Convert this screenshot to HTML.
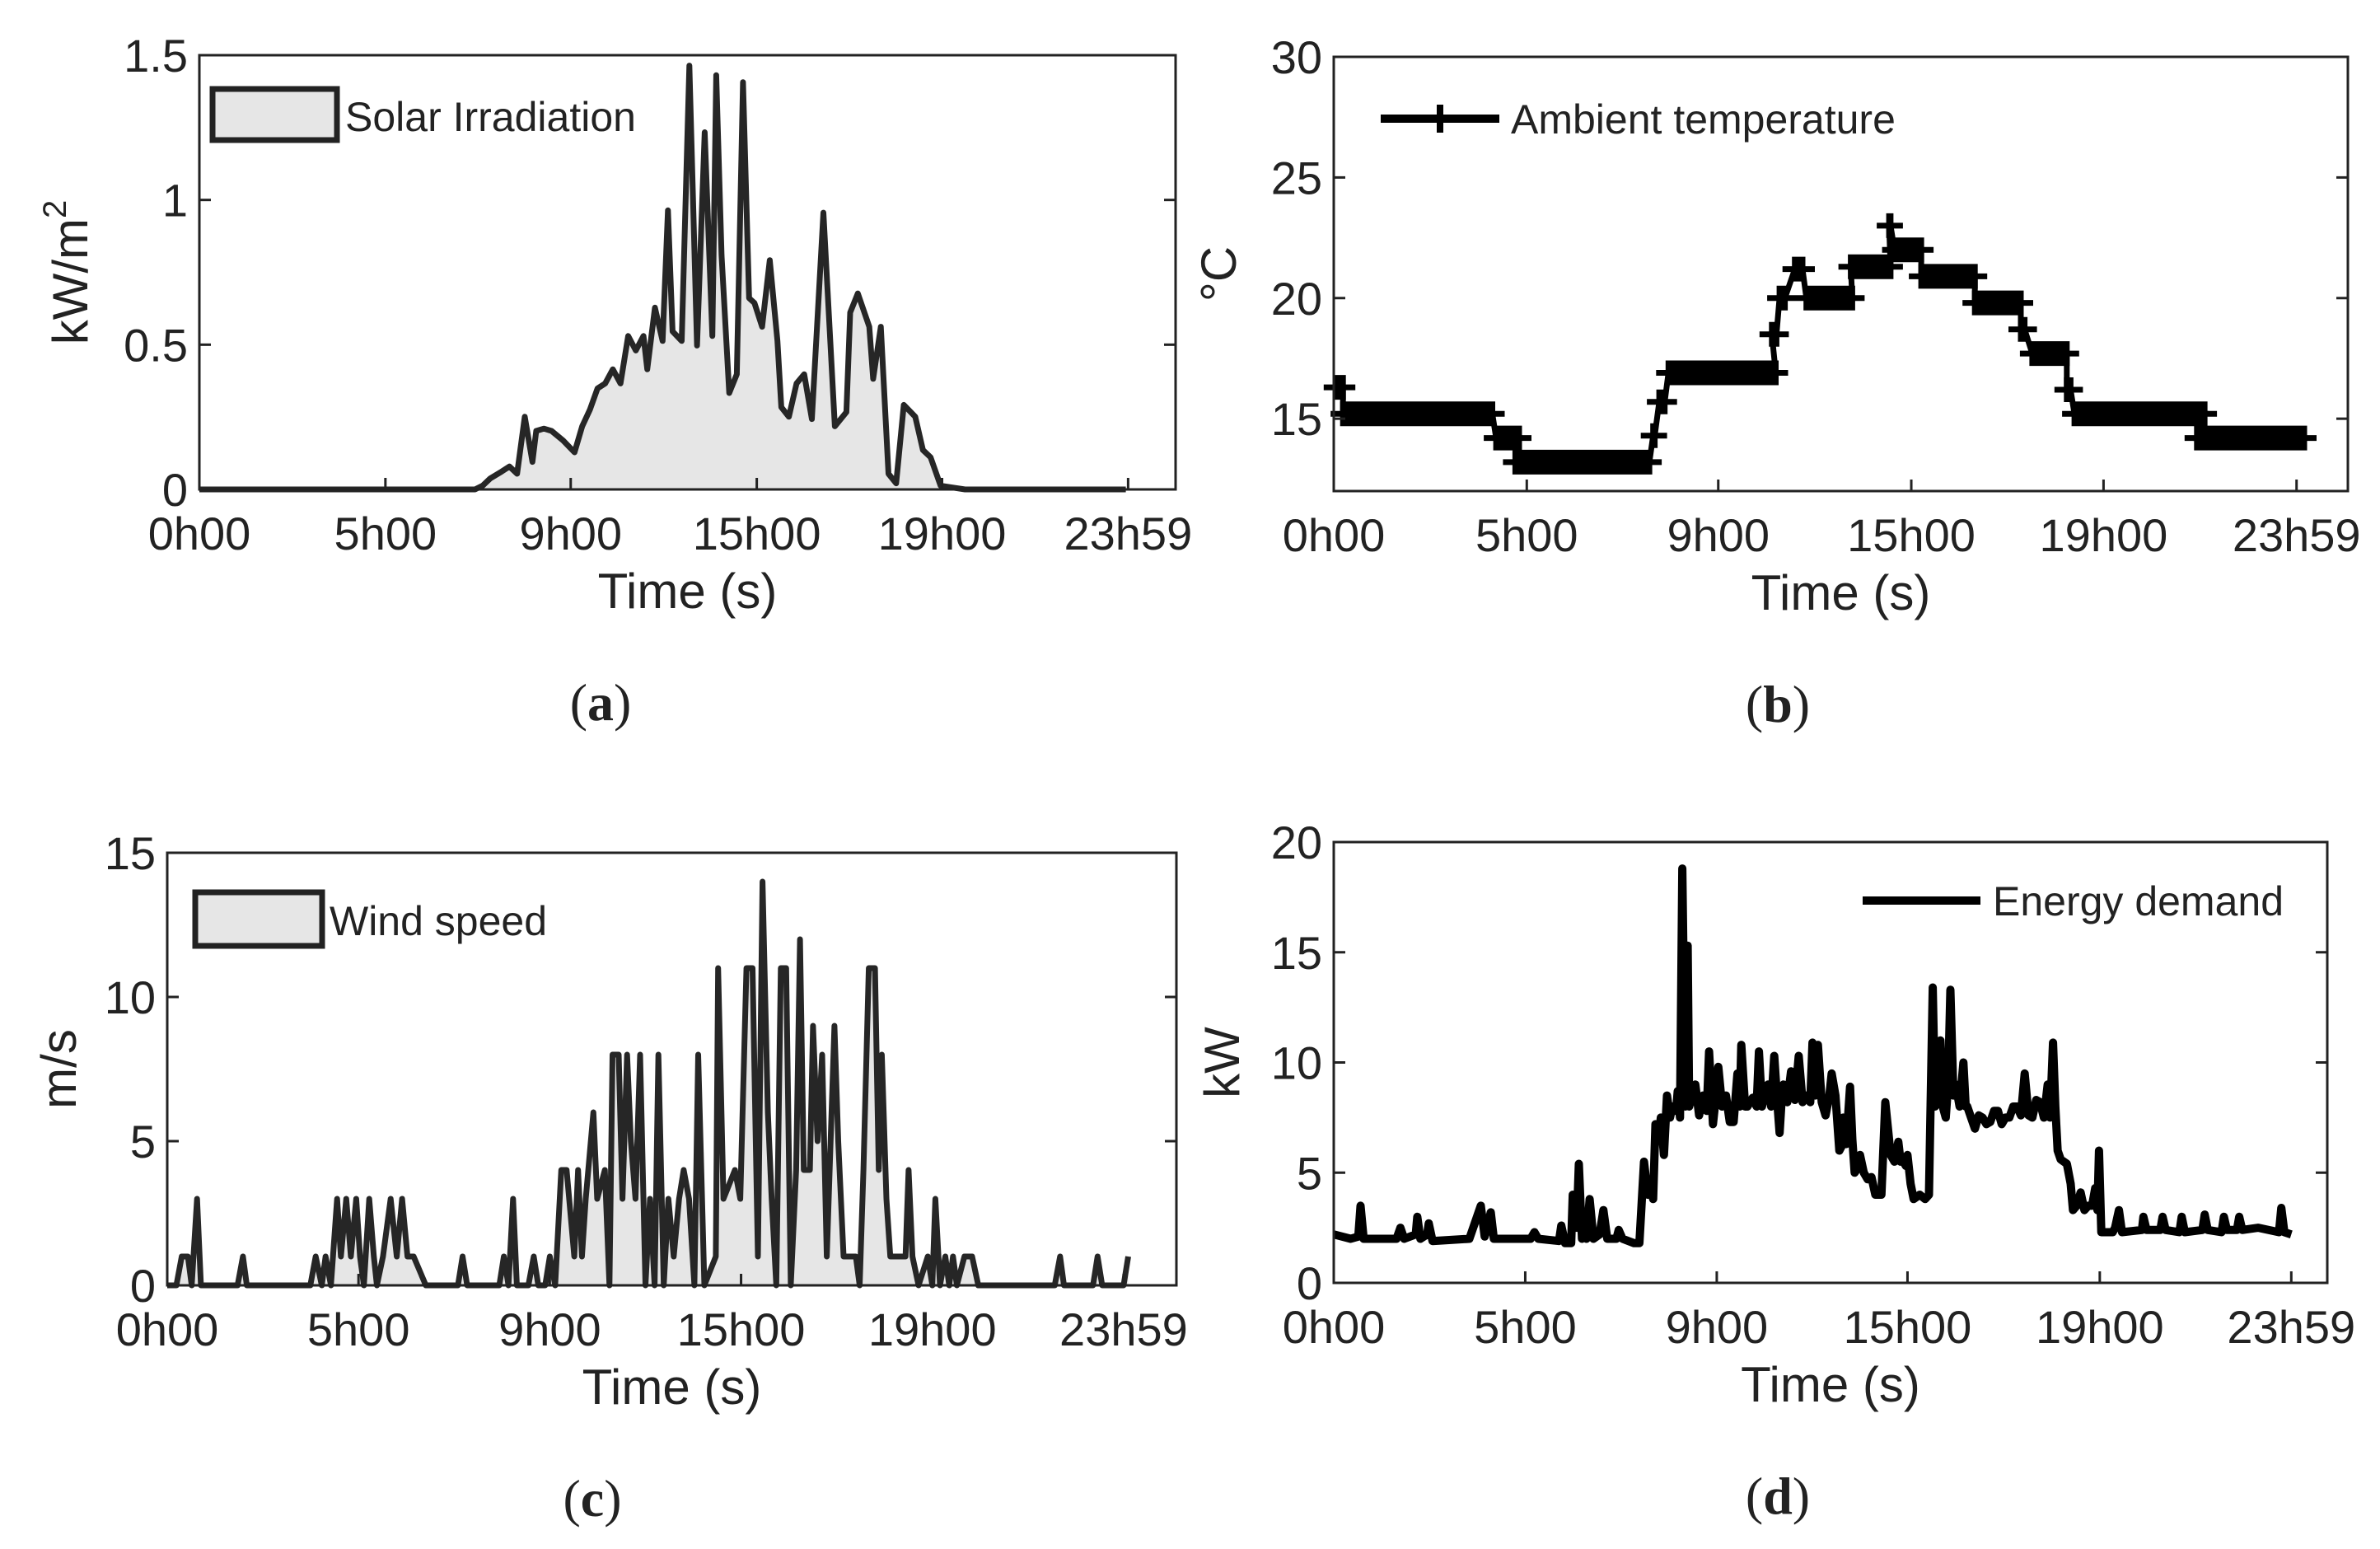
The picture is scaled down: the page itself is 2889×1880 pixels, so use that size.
<!DOCTYPE html>
<html><head><meta charset="utf-8"><style>
html,body{margin:0;padding:0;background:#fff}
svg{display:block}
text{font-family:"Liberation Sans",sans-serif;fill:#222}
.cap{font-family:"Liberation Serif",serif}
</style></head><body>
<svg id="fig" xmlns="http://www.w3.org/2000/svg" width="2889" height="1880" viewBox="0 0 2889 1880"></svg>
<script>
// ---------- data ----------
const timeTickLabels = ["0h00","5h00","9h00","15h00","19h00","23h59"];
// (a) solar irradiation: sample index, kW/m2
const solarIdx = [0,360,370,380,395,405,415,425,435,440,450,460,475,490,500,510,520,530,540,550,560,570,580,585,595,605,612,618,630,640,650,660,670,675,682,692,702,710,718,725,735,745,755,760,770,780,790,800,815,830,845,850,860,875,880,890,900,910,920,935,945,955,968,980,1000,1210];
const solarVal = [0,0,.013,.038,.062,.079,.054,.251,.095,.202,.21,.202,.169,.128,.218,.275,.349,.366,.415,.366,.53,.48,.53,.415,.628,.513,.964,.546,.513,1.464,.497,1.234,.53,1.431,.808,.333,.398,1.407,.661,.644,.562,.792,.513,.284,.251,.366,.398,.243,.956,.218,.267,.611,.677,.562,.382,.562,.054,.021,.292,.251,.136,.111,.013,.008,0,0];
const solarTicks = [0,243,485,728,970,1213];
const solarYTicks = [0,0.5,1,1.5];
const solarYLabels = ["0","0.5","1","1.5"];
// (b) ambient temperature step segments: start idx, end idx, value
const tempStart = [3,12,212,237,417,425,437,572,582,602,617,675,725,732,767,837,897,912,957,967,1127];
const tempEnd   = [12,207,242,412,419,432,577,578,589,612,677,727,727,767,837,897,902,957,962,1137,1267];
const tempVal   = [16.3,15.2,14.2,13.2,14.3,15.7,16.9,18.5,20.0,21.2,20.0,21.3,23.0,22.0,20.9,19.8,18.7,17.7,16.2,15.2,14.2];
const tempTicks = [0,252,502,754,1005,1257];
const tempYTicks = [15,20,25,30];
const tempYLabels = ["15","20","25","30"];
// (c) wind speed
const windIdx = [0,12,19,27,32,39,44,92,99,104,187,194,202,207,214,222,227,234,240,247,252,257,264,270,274,282,292,300,307,314,322,338,380,386,392,434,440,446,452,457,472,479,485,494,500,507,515,522,532,537,542,547,557,562,572,578,582,590,595,601,606,612,618,625,631,637,642,649,655,662,669,675,682,689,694,702,717,720,727,742,749,757,765,772,778,785,790,796,802,809,815,822,827,832,840,844,850,856,862,872,877,884,900,905,910,917,925,930,934,940,945,965,969,974,982,994,1000,1004,1010,1017,1022,1027,1032,1042,1052,1060,1160,1167,1172,1210,1216,1222,1250,1256];
const windVal = [0,0,1,1,0,3,0,0,1,0,0,1,0,1,0,3,1,3,1,3,1,0,3,1,0,1,3,1,3,1,1,0,0,1,0,0,1,0,3,0,0,1,0,0,1,0,4,4,1,4,1,3,6,3,4,0,8,8,3,8,5,3,8,0,3,0,8,0,3,1,3,4,3,0,8,0,1,11,3,4,3,11,11,1,14,6,3,0,11,11,0,4,12,4,4,9,5,8,1,9,5,1,1,0,4,11,11,4,8,3,1,1,4,1,0,1,0,3,0,1,0,1,0,1,1,0,0,1,0,0,1,0,0,1];
const windTicks = [0,250,500,750,1000,1250];
const windYTicks = [0,5,10,15];
const windYLabels = ["0","5","10","15"];
// (d) energy demand
const demandIdx = [0,22,32,35,39,82,87,92,107,109,113,122,124,129,177,192,197,205,209,257,262,267,294,297,302,310,312,317,320,324,327,330,334,339,347,352,357,369,372,377,392,399,405,410,414,417,420,424,427,431,435,439,442,447,449,452,455,459,462,464,472,477,482,487,490,495,499,502,507,512,517,522,527,530,532,537,540,547,552,555,559,562,567,571,575,579,582,585,587,592,597,602,607,612,617,622,625,629,632,637,642,647,650,655,660,663,665,669,674,677,680,684,687,692,697,702,707,715,720,725,727,732,737,740,742,747,749,753,757,765,772,777,782,785,787,790,792,795,799,802,805,809,812,817,822,825,827,832,837,842,847,852,857,862,867,872,877,882,887,892,897,902,907,912,917,922,927,932,935,939,942,945,949,957,962,965,970,975,980,985,990,994,997,999,1002,1017,1020,1025,1029,1055,1057,1061,1079,1082,1086,1104,1107,1111,1134,1137,1141,1159,1162,1166,1179,1182,1186,1207,1234,1237,1241,1250];
const demandVal = [2.2,2.0,2.1,3.5,2.0,2.0,2.5,2.0,2.2,3.0,2.0,2.2,2.7,1.9,2.0,3.5,2.1,3.2,2.0,2.0,2.3,2.0,1.9,2.6,1.8,1.8,4.0,2.5,5.4,2.0,3.0,2.0,3.8,2.0,2.2,3.3,2.0,2.0,2.4,2.0,1.8,1.8,5.5,4.0,4.2,3.8,7.2,6.5,7.5,5.8,8.5,7.5,8.0,7.8,8.7,7.5,18.8,8,15.3,8,9,7.6,8.5,7.8,10.5,7.2,8.5,9.8,8,8.5,7.3,7.3,9.5,8.0,10.8,8,8.0,8.4,8,10.5,8,8.5,9,8,10.3,8.2,6.8,8.5,9,8.2,9.6,8.3,10.3,8.2,8.5,8.2,10.9,8.5,10.8,8.2,7.6,8.5,9.5,8.5,6,6.2,7.5,6.3,8.9,6.5,5,5.2,5.8,5.0,4.7,4.8,4.0,4.0,8.2,6.5,5.8,5.5,6.4,5.5,5.6,5.3,5.8,4.5,3.8,4.0,3.8,4.0,13.4,8.0,9.5,8.2,11,8,7.5,9,13.3,8.5,9,8,10,8,8,7.5,7.0,7.6,7.5,7.2,7.3,7.8,7.8,7.2,7.5,7.5,8,8.0,7.6,9.5,7.6,7.5,8.3,8.2,7.5,9,7.5,10.9,8,6,5.6,5.4,4.5,3.3,3.5,4.1,3.3,3.5,3.5,4.3,3.3,6,2.3,2.3,2.5,3.3,2.3,2.4,3.0,2.4,2.4,3.0,2.4,2.3,3.0,2.3,2.4,3.1,2.4,2.3,3.0,2.4,2.4,3.0,2.4,2.5,2.3,3.4,2.3,2.2];
const demandTicks = [0,250,500,749,1000,1250];
const demandYTicks = [0,5,10,15,20];
const demandYLabels = ["0","5","10","15","20"];

// ---------- helpers ----------
const NS = "http://www.w3.org/2000/svg";
const svg = document.getElementById("fig");
function mk(tag, attrs, parent) {
  const e = document.createElementNS(NS, tag);
  for (const k in attrs) e.setAttribute(k, attrs[k]);
  (parent || svg).appendChild(e);
  return e;
}
function makeAxes(p, name) {
  const g = mk("g", {});
  
  
  p.sx = v => p.L + v / p.xMax * (p.R - p.L);
  p.sy = v => p.B - (v - p.yMin) / (p.yMax - p.yMin) * (p.B - p.T);
  p.g = g;
  return g;
}
function drawFrame(p, ticks, yTicks, yLabels, xTitle, yTitle, caption) {
  const g = p.g;
  const box = mk("rect", {x:p.L, y:p.T, width:p.R-p.L, height:p.B-p.T, fill:"none", stroke:"#222", "stroke-width":3}, g);
  
  
  ticks.forEach((t, i) => {
    const x = p.sx(t);
    const tk = mk("line", {x1:x, x2:x, y1:p.B, y2:p.B-14, stroke:"#222", "stroke-width":3}, g);
    
    
    const lb = mk("text", {x:x, y:p.B+73, "text-anchor":"middle", "font-size":56}, g);
    lb.textContent = timeTickLabels[i];
    
    
  });
  yTicks.forEach((v, i) => {
    const y = p.sy(v);
    const tl = mk("line", {x1:p.L, x2:p.L+14, y1:y, y2:y, stroke:"#222", "stroke-width":3}, g);
    
    
    const tr = mk("line", {x1:p.R, x2:p.R-14, y1:y, y2:y, stroke:"#222", "stroke-width":3}, g);
    
    
    const lb = mk("text", {x:p.L-14, y:y+20, "text-anchor":"end", "font-size":56}, g);
    lb.textContent = yLabels[i];
    
    
  });
  const xt = mk("text", {x:(p.L+p.R)/2, y:p.B+144, "text-anchor":"middle", "font-size":60}, g);
  xt.textContent = xTitle;
  
  
  const cy = (p.T + p.B) / 2;
  const yt = mk("text", {x:p.yTitleX, y:cy, "text-anchor":"middle", "font-size":60, transform:"rotate(-90 "+p.yTitleX+" "+cy+")"}, g);
  
  
  if (yTitle === "kW/m2") {
    yt.appendChild(document.createTextNode("kW/m"));
    const sp = mk("tspan", {"font-size":40, dy:-26}, yt);
    sp.textContent = "2";
  } else {
    yt.textContent = yTitle;
  }
  const cp = mk("text", {x:p.capX, y:p.B+280, "text-anchor":"middle", "font-size":64, "class":"cap"}, g);
  
  
  cp.appendChild(document.createTextNode("("));
  const b = mk("tspan", {"font-weight":"bold"}, cp);
  b.textContent = caption;
  cp.appendChild(document.createTextNode(")"));
}
function areaSeries(p, xs, ys, name) {
  let pts = xs.map((x, i) => p.sx(x).toFixed(1) + "," + p.sy(ys[i]).toFixed(1));
  const base = p.sy(0);
  const area = mk("polygon", {points: p.sx(xs[0]) + "," + base + " " + pts.join(" ") + " " + p.sx(xs[xs.length-1]) + "," + base, fill:"#e6e6e6", stroke:"none"}, p.g);
  
  
  const line = mk("polyline", {points: pts.join(" "), fill:"none", stroke:"#262626", "stroke-width":7, "stroke-linejoin":"round"}, p.g);
  
  
}

// ---------- panel (a) ----------
const pa = {L:242, R:1427, T:67, B:594, xMax:1275, yMin:0, yMax:1.5, yTitleX:106, capX:729};
makeAxes(pa, "solar-irradiation-chart");
areaSeries(pa, solarIdx, solarVal, "solar-irradiation");
drawFrame(pa, solarTicks, solarYTicks, solarYLabels, "Time (s)", "kW/m2", "a");
{
  const r = mk("rect", {x:258, y:108, width:151, height:62, fill:"#e6e6e6", stroke:"#222", "stroke-width":7}, pa.g);
  
  
  const t = mk("text", {x:419, y:159, "font-size":50}, pa.g);
  t.textContent = "Solar Irradiation";
  
  
}

// ---------- panel (b) ----------
const pb = {L:1619, R:2850, T:69, B:596, xMax:1324, yMin:12, yMax:30, yTitleX:1500, capX:2158};
makeAxes(pb, "ambient-temperature-chart");
{
  const pts = [];
  tempStart.forEach((s, i) => {
    pts.push(pb.sx(s).toFixed(1) + "," + pb.sy(tempVal[i]).toFixed(1));
    pts.push(pb.sx(tempEnd[i]).toFixed(1) + "," + pb.sy(tempVal[i]).toFixed(1));
  });
  const ln = mk("polyline", {points: pts.join(" "), fill:"none", stroke:"#000", "stroke-width":7}, pb.g);
  
  
  let d = "";
  tempStart.forEach((s, i) => {
    const x0 = pb.sx(s), x1 = pb.sx(tempEnd[i]), y = pb.sy(tempVal[i]);
    const n = Math.max(1, Math.round((x1 - x0) / 4));
    for (let k = 0; k <= n; k++) {
      const x = x0 + (x1 - x0) * k / n;
      d += "M" + (x-15).toFixed(1) + " " + y.toFixed(1) + "h30M" + x.toFixed(1) + " " + (y-15).toFixed(1) + "v30";
    }
  });
  const mkr = mk("path", {d: d, stroke:"#000", "stroke-width":7, fill:"none"}, pb.g);
  
  
}
drawFrame(pb, tempTicks, tempYTicks, tempYLabels, "Time (s)", "°C", "b");
{
  const l = mk("line", {x1:1676, x2:1820, y1:144, y2:144, stroke:"#000", "stroke-width":10}, pb.g);
  
  
  const m = mk("path", {d:"M1731 144h34M1748 127v34", stroke:"#000", "stroke-width":8}, pb.g);
  
  
  const t = mk("text", {x:1834, y:162, "font-size":50}, pb.g);
  t.textContent = "Ambient temperature";
  
  
}

// ---------- panel (c) ----------
const pc = {L:203, R:1428, T:1035, B:1560, xMax:1319, yMin:0, yMax:15, yTitleX:92, capX:719};
makeAxes(pc, "wind-speed-chart");
areaSeries(pc, windIdx, windVal, "wind-speed");
drawFrame(pc, windTicks, windYTicks, windYLabels, "Time (s)", "m/s", "c");
{
  const r = mk("rect", {x:237, y:1083, width:154, height:65, fill:"#e6e6e6", stroke:"#222", "stroke-width":7}, pc.g);
  
  
  const t = mk("text", {x:400, y:1135, "font-size":50}, pc.g);
  t.textContent = "Wind speed";
  
  
}

// ---------- panel (d) ----------
const pd = {L:1619, R:2825, T:1022, B:1557, xMax:1297, yMin:0, yMax:20, yTitleX:1504, capX:2158};
makeAxes(pd, "energy-demand-chart");
{
  const pts = demandIdx.map((x, i) => pd.sx(x).toFixed(1) + "," + pd.sy(demandVal[i]).toFixed(1));
  const ln = mk("polyline", {points: pts.join(" "), fill:"none", stroke:"#000", "stroke-width":10, "stroke-linejoin":"round"}, pd.g);
  
  
}
drawFrame(pd, demandTicks, demandYTicks, demandYLabels, "Time (s)", "kW", "d");
{
  const l = mk("line", {x1:2261, x2:2404, y1:1093, y2:1093, stroke:"#000", "stroke-width":10}, pd.g);
  
  
  const t = mk("text", {x:2419, y:1111, "font-size":50}, pd.g);
  t.textContent = "Energy demand";
  
  
}
</script>
</body></html>
